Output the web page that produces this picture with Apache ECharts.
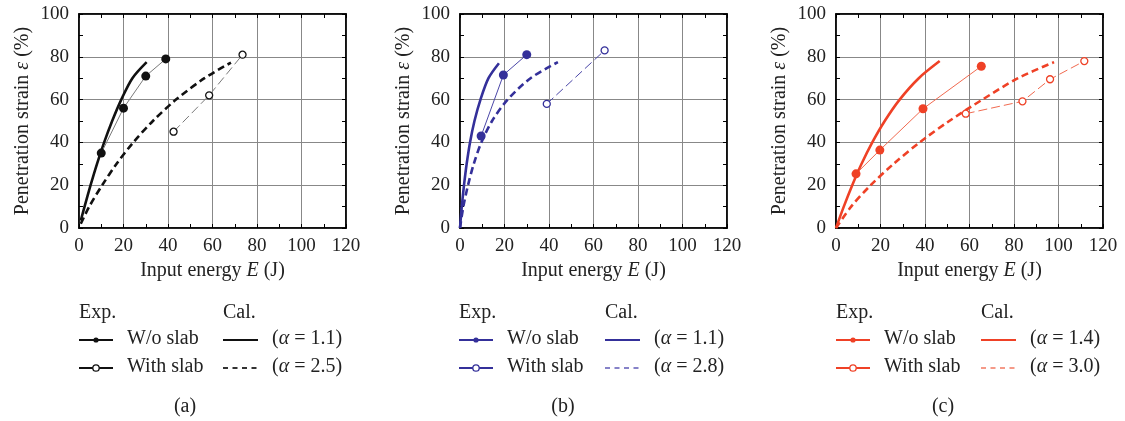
<!DOCTYPE html>
<html><head><meta charset="utf-8">
<script src="https://cdn.jsdelivr.net/npm/echarts@6/dist/echarts.min.js"></script>
<style>html,body{margin:0;padding:0;background:#fff}#c{width:1125px;height:421px}</style>
</head><body><div id="c"></div>
<script>
const xTicks = [0, 20, 40, 60, 80, 100, 120];
const yTicks = [0, 20, 40, 60, 80, 100];
const panelLabels = ['(a)', '(b)', '(c)'];
const alphaWo = ['1.1', '1.1', '1.4'];
const alphaWith = ['2.5', '2.8', '3.0'];
const expNames = ['W/o slab', 'With slab'];

// Panel (a)
const aExpWo = [[10, 35], [20, 56], [30, 71], [39, 79]];
const aExpWith = [[42.5, 45], [58.5, 62], [73.5, 81]];
const aCalWo = [[0.8, 3.5], [2.5, 10], [5.2, 20], [8.1, 30], [11.3, 40], [14.9, 50], [19.0, 60], [24.0, 70], [30.4, 77.5]];
const aCalWith = [[0.8, 2], [4.6, 10], [10.4, 20], [16.9, 30], [24.4, 40], [33.2, 50], [43.6, 60], [56.4, 70], [68.3, 77.3]];
// Panel (b)
const bExpWo = [[9.5, 43], [19.5, 71.5], [30, 81]];
const bExpWith = [[39, 58], [65, 83]];
const bCalWo = [[0, 0], [0.8, 10], [1.8, 20], [3.0, 30], [4.5, 40], [6.5, 50], [9.2, 60], [12.8, 70], [17.5, 77]];
const bCalWith = [[0, 0], [1.5, 10], [3.6, 20], [6.2, 30], [9.6, 40], [14.4, 50], [21.4, 60], [31.7, 70], [44, 77.5]];
// Panel (c)
const cExpWo = [[9, 25.3], [19.7, 36.4], [39.1, 55.7], [65.3, 75.6]];
const cExpWith = [[58.3, 53.4], [83.8, 59.2], [96.2, 69.5], [111.6, 78]];
const cCalWo = [[0, 0], [3.5, 10], [7.3, 20], [11.5, 30], [16.3, 40], [21.9, 50], [28.6, 60], [37.2, 70], [46.6, 78]];
const cCalWith = [[0, 0], [6.8, 10], [15.6, 20], [25.9, 30], [37.6, 40], [50.9, 50], [65.8, 60], [81.8, 70], [98, 77.5]];

const expWo = [aExpWo, bExpWo, cExpWo];
const expWith = [aExpWith, bExpWith, cExpWith];
const calWo = [aCalWo, bCalWo, cCalWo];
const calWith = [aCalWith, bCalWith, cCalWith];

const mainColor = ['#111111', '#34309a', '#ef4126'];
const thinColor = ['#7a7a7a', '#4b47a8', '#f16a50'];
const legDashColor = ['#333333', '#8682c8', '#f59a88'];

const gridLeft = [79, 460, 836];
const gridW = 267, gridTop = 14, gridH = 214;
const legLeft = [79, 459, 836];
const legCal = [223, 605, 981];
const labelCenter = [185, 563, 943];

const FONT = 'Liberation Serif';
const txt = { fontFamily: FONT, color: '#222' };

const grids = [], xAxes = [], yAxes = [], series = [], graphics = [];
for (let i = 0; i < 3; i++) {
  grids.push({ left: gridLeft[i], top: gridTop, width: gridW, height: gridH, show: true,
    borderColor: '#000', borderWidth: 1.5, backgroundColor: 'transparent' });
  const xMin = xTicks[0], xMax = xTicks[xTicks.length - 1], xInt = xTicks[1] - xTicks[0];
  const yMin = yTicks[0], yMax = yTicks[yTicks.length - 1], yInt = yTicks[1] - yTicks[0];
  xAxes.push({ type: 'value', gridIndex: i, position: 'bottom', min: xMin, max: xMax, interval: xInt,
    axisLine: { show: true, onZero: false, lineStyle: { color: '#000', width: 1.5 } },
    axisTick: { show: true, inside: true, length: 4, lineStyle: { color: '#000' } },
    minorTick: { show: true, splitNumber: 2, length: 4, lineStyle: { color: '#000' } },
    axisLabel: { ...txt, fontSize: 19, margin: 9 },
    splitLine: { show: true, lineStyle: { color: '#888', width: 1 } },
    name: 'Input energy {i|E} (J)', nameLocation: 'middle', nameGap: 32,
    nameTextStyle: { ...txt, fontSize: 20, rich: { i: { ...txt, fontSize: 20, fontStyle: 'italic' } } } });
  xAxes.push({ type: 'value', gridIndex: i, position: 'top', min: xMin, max: xMax, interval: xInt,
    axisLine: { show: true, onZero: false, lineStyle: { color: '#000', width: 1.5 } },
    axisTick: { show: true, inside: true, length: 4, lineStyle: { color: '#000' } },
    minorTick: { show: true, splitNumber: 2, length: 4, lineStyle: { color: '#000' } },
    axisLabel: { show: false }, splitLine: { show: false } });
  yAxes.push({ type: 'value', gridIndex: i, position: 'left', min: yMin, max: yMax, interval: yInt,
    axisLine: { show: true, onZero: false, lineStyle: { color: '#000', width: 1.5 } },
    axisTick: { show: true, inside: true, length: 4, lineStyle: { color: '#000' } },
    minorTick: { show: true, splitNumber: 2, length: 4, lineStyle: { color: '#000' } },
    axisLabel: { ...txt, fontSize: 19, margin: 10 },
    splitLine: { show: true, lineStyle: { color: '#888', width: 1 } },
    name: 'Penetration strain {i|ε} (%)', nameLocation: 'middle', nameGap: 46, nameRotate: 90,
    nameTextStyle: { ...txt, fontSize: 20, rich: { i: { ...txt, fontSize: 20, fontStyle: 'italic' } } } });
  yAxes.push({ type: 'value', gridIndex: i, position: 'right', min: yMin, max: yMax, interval: yInt,
    axisLine: { show: true, onZero: false, lineStyle: { color: '#000', width: 1.5 } },
    axisTick: { show: true, inside: true, length: 4, lineStyle: { color: '#000' } },
    minorTick: { show: true, splitNumber: 2, length: 4, lineStyle: { color: '#000' } },
    axisLabel: { show: false }, splitLine: { show: false } });

  const xi = i * 2, yi = i * 2;
  series.push({ type: 'line', name: 'Cal. (α = ' + alphaWo[i] + ') ' + panelLabels[i], xAxisIndex: xi, yAxisIndex: yi,
    data: calWo[i], smooth: 0.3, showSymbol: false, lineStyle: { color: mainColor[i], width: 2.6 }, z: 3 });
  series.push({ type: 'line', name: 'Cal. (α = ' + alphaWith[i] + ') ' + panelLabels[i], xAxisIndex: xi, yAxisIndex: yi,
    data: calWith[i], smooth: 0.3, showSymbol: false, lineStyle: { color: mainColor[i], width: 2.6, type: [7, 4] }, z: 3 });
  series.push({ type: 'line', name: 'Exp. W/o slab ' + panelLabels[i], xAxisIndex: xi, yAxisIndex: yi,
    data: expWo[i], symbol: 'circle', symbolSize: 9,
    itemStyle: { color: mainColor[i] }, lineStyle: { color: thinColor[i], width: 1 }, z: 4 });
  series.push({ type: 'line', name: 'Exp. With slab ' + panelLabels[i], xAxisIndex: xi, yAxisIndex: yi,
    data: expWith[i], symbol: 'circle', symbolSize: 7,
    itemStyle: { color: '#fff', borderColor: mainColor[i], borderWidth: 1.3 },
    lineStyle: { color: thinColor[i], width: 1, type: [9, 4] }, z: 4 });

  // legend block
  const L = legLeft[i], C = legCal[i], col = mainColor[i];
  const tstyle = (t, x, y, extra) => ({ type: 'text', x: x, y: y,
    style: Object.assign({ text: t, fill: '#222', font: '20px "' + FONT + '"', textVerticalAlign: 'middle' }, extra || {}) });
  graphics.push(tstyle('Exp.', L, 313));
  graphics.push(tstyle('Cal.', C, 313));
  graphics.push({ type: 'line', shape: { x1: L, y1: 340, x2: L + 34, y2: 340 }, style: { stroke: col, lineWidth: 2 } });
  graphics.push({ type: 'circle', shape: { cx: L + 17, cy: 340, r: 2.6 }, style: { fill: col } });
  graphics.push(tstyle(expNames[0], L + 48, 339));
  graphics.push({ type: 'line', shape: { x1: L, y1: 368, x2: L + 34, y2: 368 }, style: { stroke: col, lineWidth: 2 } });
  graphics.push({ type: 'circle', shape: { cx: L + 17, cy: 368, r: 3.2 }, style: { fill: '#fff', stroke: col, lineWidth: 1.3 } });
  graphics.push(tstyle(expNames[1], L + 48, 367));
  graphics.push({ type: 'line', shape: { x1: C, y1: 340, x2: C + 35, y2: 340 }, style: { stroke: col, lineWidth: 2 } });
  graphics.push({ type: 'line', shape: { x1: C, y1: 368, x2: C + 35, y2: 368 }, style: { stroke: legDashColor[i], lineWidth: 2, lineDash: [5, 4.5] } });
  const rich = { n: { fontFamily: FONT, fontSize: 20, fill: '#222' }, i: { fontFamily: FONT, fontSize: 20, fontStyle: 'italic', fill: '#222' } };
  graphics.push({ type: 'text', x: C + 49, y: 339, style: { text: '{n|(}{i|α}{n| = ' + alphaWo[i] + ')}', rich: rich, textVerticalAlign: 'middle', verticalAlign: 'middle' } });
  graphics.push({ type: 'text', x: C + 49, y: 367, style: { text: '{n|(}{i|α}{n| = ' + alphaWith[i] + ')}', rich: rich, textVerticalAlign: 'middle', verticalAlign: 'middle' } });
  graphics.push(tstyle(panelLabels[i], labelCenter[i], 407, { textAlign: 'center', align: 'center' }));
}

const chart = echarts.init(document.getElementById('c'), null, { renderer: 'canvas' });
chart.setOption({
  backgroundColor: '#fff',
  animation: false,
  grid: grids, xAxis: xAxes, yAxis: yAxes, series: series,
  graphic: graphics
});
</script></body></html>
